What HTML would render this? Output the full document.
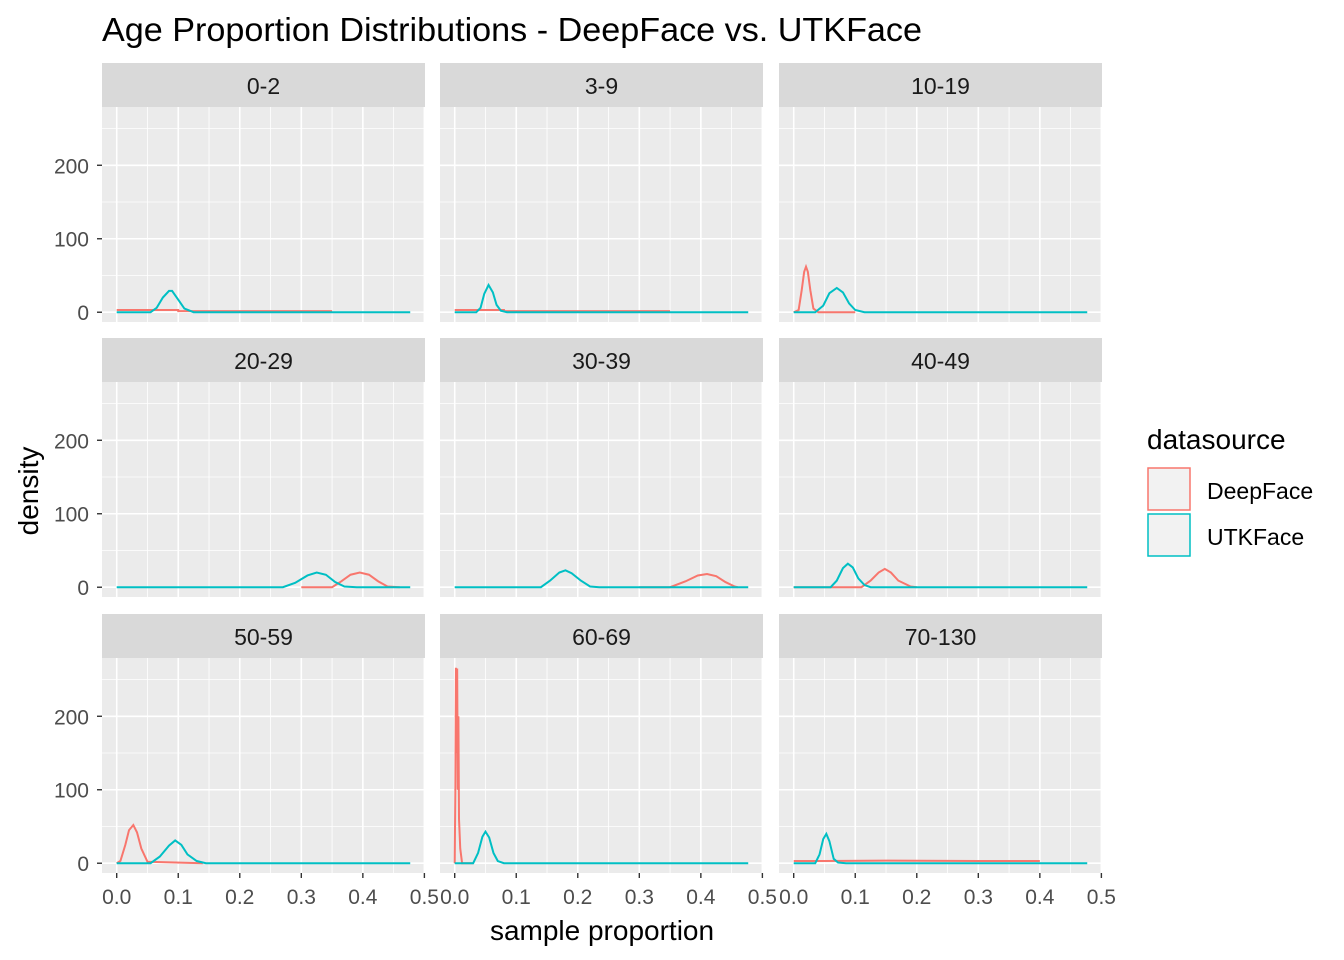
<!DOCTYPE html>
<html><head><meta charset="utf-8"><style>
body{margin:0;background:#fff;}
svg{display:block;font-family:"Liberation Sans",Arial,sans-serif;}
</style></head><body>
<svg id="chart" width="1344" height="960" xmlns="http://www.w3.org/2000/svg">
<text x="102" y="41" font-size="33" fill="#000" textLength="820" lengthAdjust="spacingAndGlyphs">Age Proportion Distributions - DeepFace vs. UTKFace</text>
<text x="602" y="940" font-size="28" text-anchor="middle" fill="#000">sample proportion</text>
<text x="38" y="491" font-size="28" text-anchor="middle" fill="#000" transform="rotate(-90 38 491)">density</text>
<g>
<text x="1147" y="449" font-size="28" fill="#000">datasource</text>
<rect x="1148" y="468" width="42" height="42" fill="#f2f2f2" stroke="#F8766D" stroke-width="1.5"/>
<text x="1207" y="499" font-size="23" fill="#000">DeepFace</text>
<rect x="1148" y="514" width="42" height="42" fill="#f2f2f2" stroke="#00BFC4" stroke-width="1.5"/>
<text x="1207" y="545" font-size="23" fill="#000">UTKFace</text>
</g>
</svg>
<script>
const panelNames = ["0-2","3-9","10-19","20-29","30-39","40-49","50-59","60-69","70-130"];
const xTicks = [0,0.1,0.2,0.3,0.4,0.5];
const xTickLabels = ["0.0","0.1","0.2","0.3","0.4","0.5"];
const yTicks = [0,100,200];
const yTickLabels = ["0","100","200"];
// DeepFace series: [x values], [density values]
const deepX = [
 [0,0.1,0.1,0.35],
 [0,0.08,0.08,0.35],
 [0,0.008,0.013,0.017,0.02,0.023,0.027,0.032,0.04,0.1],
 [0.3,0.35,0.365,0.38,0.395,0.41,0.425,0.44,0.46],
 [0.3,0.35,0.375,0.395,0.41,0.425,0.44,0.455,0.46],
 [0,0.11,0.125,0.138,0.148,0.158,0.17,0.19,0.2],
 [0,0.006,0.014,0.02,0.027,0.033,0.04,0.05,0.14],
 [0,0.001,0.002,0.003,0.004,0.005,0.006,0.007,0.009,0.012,0.03],
 [0,0.05,0.15,0.3,0.4]
];
const deepY = [
 [3,3,1.5,1.5],
 [3,3,1.5,1.5],
 [0,3,30,55,62,55,30,5,0,0],
 [0,0,8,17,20,17,8,1,0],
 [0,0,8,16,18,15,7,1,0],
 [0,0,9,20,25,20,9,1,0],
 [0,3,25,45,52,42,20,2,0],
 [0,97,266,150,265,100,200,60,20,0,0],
 [3,3,3.5,3,3]
];
const utkX = [
 [0,0.055,0.065,0.075,0.085,0.09,0.1,0.11,0.125,0.477],
 [0,0.035,0.042,0.048,0.055,0.062,0.068,0.075,0.085,0.477],
 [0,0.035,0.048,0.058,0.07,0.08,0.09,0.1,0.115,0.477],
 [0,0.27,0.29,0.31,0.325,0.34,0.355,0.37,0.39,0.477],
 [0,0.14,0.155,0.17,0.18,0.19,0.205,0.22,0.235,0.477],
 [0,0.06,0.07,0.08,0.088,0.096,0.105,0.115,0.125,0.477],
 [0,0.055,0.07,0.085,0.095,0.105,0.115,0.13,0.145,0.477],
 [0,0.03,0.038,0.045,0.05,0.056,0.063,0.07,0.08,0.477],
 [0,0.035,0.042,0.048,0.053,0.058,0.065,0.072,0.085,0.477]
];
const utkY = [
 [0,0,6,20,29,29,17,5,0,0],
 [0,0,6,25,37,27,10,2,0,0],
 [0,0,9,26,33,27,12,3,0,0],
 [0,0,6,16,20,17,7,1,0,0],
 [0,0,9,20,23,19,9,1,0,0],
 [0,0,9,26,32,27,12,3,0,0],
 [0,0,9,24,31,25,12,3,0,0],
 [0,0,14,36,43,35,14,3,0,0],
 [0,0,12,33,40,30,6,1,0,0]
];
const NS="http://www.w3.org/2000/svg";
const svg=document.getElementById('chart');
const colL=[102,440,779], rowT=[63,338,614];
const PW=323, STRIP=44, PH=215;
const xmin=-0.0239, xmax=0.501, ymin=-13.3, ymax=279.3;
function mk(tag,attrs,parent){const e=document.createElementNS(NS,tag);for(const k in attrs)e.setAttribute(k,attrs[k]);(parent||svg).appendChild(e);return e;}
panelNames.forEach((name,i)=>{
 const c=i%3,r=Math.floor(i/3);
 const L=colL[c], T=rowT[r]+STRIP;
 const sx=v=>L+(v-xmin)/(xmax-xmin)*PW;
 const sy=v=>T+PH-(v-ymin)/(ymax-ymin)*PH;
 const g=mk('g',{});
 
 
 const strip=mk('rect',{x:L,y:rowT[r],width:PW,height:STRIP,fill:'#d9d9d9'},g);
 
 
 const st=mk('text',{x:L+PW/2,y:rowT[r]+31,'font-size':23,'text-anchor':'middle',fill:'#1a1a1a'},g);
 st.textContent=name;
 
 
 const bg=mk('rect',{x:L,y:T,width:PW,height:PH,fill:'#ebebeb'},g);
 
 
 [0.05,0.15,0.25,0.35,0.45].forEach(v=>{const l=mk('line',{x1:sx(v),x2:sx(v),y1:T,y2:T+PH,stroke:'#fff','stroke-width':0.8},g);});
 [50,150,250].forEach(v=>{const l=mk('line',{x1:L,x2:L+PW,y1:sy(v),y2:sy(v),stroke:'#fff','stroke-width':0.8},g);});
 xTicks.forEach((v,k)=>{
  const l=mk('line',{x1:sx(v),x2:sx(v),y1:T,y2:T+PH,stroke:'#fff','stroke-width':1.6},g);
  
  
  if(r===2){
   const tk=mk('line',{x1:sx(v),x2:sx(v),y1:T+PH,y2:T+PH+5,stroke:'#333','stroke-width':1.4},g);
   
   
   const t=mk('text',{x:sx(v),y:T+PH+31,'font-size':21,'text-anchor':'middle',fill:'#4d4d4d'},g);
   t.textContent=xTickLabels[k];
   
   
  }
 });
 yTicks.forEach((v,k)=>{
  const l=mk('line',{x1:L,x2:L+PW,y1:sy(v),y2:sy(v),stroke:'#fff','stroke-width':1.6},g);
  
  
  if(c===0){
   const tk=mk('line',{x1:L-5,x2:L,y1:sy(v),y2:sy(v),stroke:'#333','stroke-width':1.4},g);
   
   
   const t=mk('text',{x:L-13,y:sy(v)+8,'font-size':21,'text-anchor':'end',fill:'#4d4d4d'},g);
   t.textContent=yTickLabels[k];
   
   
  }
 });
 const dp=mk('polyline',{points:deepX[i].map((x,j)=>sx(x)+','+sy(deepY[i][j])).join(' '),fill:'none',stroke:'#F8766D','stroke-width':2},g);
 
 
 const up=mk('polyline',{points:utkX[i].map((x,j)=>sx(x)+','+sy(utkY[i][j])).join(' '),fill:'none',stroke:'#00BFC4','stroke-width':2},g);
 
 
});
</script>
</body></html>
